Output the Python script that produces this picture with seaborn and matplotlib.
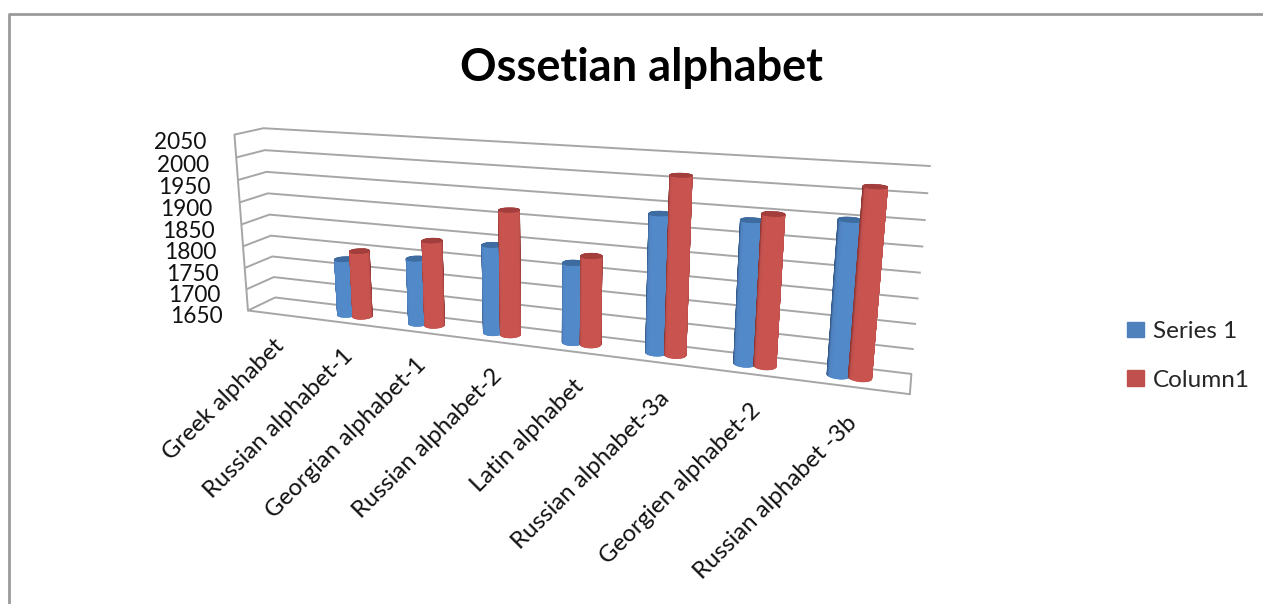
import numpy as np
import matplotlib
matplotlib.use("Agg")
import matplotlib.pyplot as plt
import seaborn as sns
from matplotlib.patches import Patch
from matplotlib.lines import Line2D
from matplotlib.transforms import ScaledTranslation

categories = ["Greek alphabet", "Russian alphabet-1", "Georgian alphabet-1", "Russian alphabet-2",
              "Latin alphabet", "Russian alphabet-3a", "Georgien alphabet-2", "Russian alphabet -3b"]
series_1 = [np.nan, 1778, 1796, 1842, 1820, 1936, 1937, 1952]
column_1 = [np.nan, 1800, 1839, 1919, 1838, 2014, 1952, 2016]
z_ticks = list(range(1650, 2051, 50))

sns.set_theme(style="white")
plt.rcParams["font.family"] = ["Lato", "DejaVu Sans"]
W, H = 1263, 604
fig = plt.figure(figsize=(W/100, H/100), dpi=100, facecolor="white")
ax = fig.add_subplot(projection="3d")
ax.set_xlim(0, 8, view_margin=0); ax.set_ylim(0, 1, view_margin=0); ax.set_zlim(1650, 2050, view_margin=0)

ELEV, AZIM, FOCAL = 14.514, -69.946, float(np.exp(-1.30503))
DEPTH, HEIGHT = float(np.exp(-0.52252)), float(np.exp(0.81220))
ax.view_init(elev=ELEV, azim=AZIM)
ax.set_proj_type("persp", focal_length=FOCAL)
ax.set_box_aspect((8, DEPTH, HEIGHT))
ax.set_position([188.026/W, -5.188/H, 706.387/W, 706.387/H])

ax.set_facecolor((1, 1, 1, 0))
GRID = "#a6a6a6"
for a in (ax.xaxis, ax.yaxis, ax.zaxis):
    a.set_pane_color((1, 1, 1, 0))
    a.pane.set_edgecolor((0, 0, 0, 0))
    a.line.set_color((0, 0, 0, 0))
    a._axinfo["tick"]["inward_factor"] = 0
    a._axinfo["tick"]["outward_factor"] = 0
ax.grid(True)
ax.xaxis._axinfo["grid"]["color"] = (0, 0, 0, 0)
ax.yaxis._axinfo["grid"]["color"] = (0, 0, 0, 0)
ax.zaxis._axinfo["grid"]["color"] = GRID
ax.zaxis._axinfo["grid"]["linewidth"] = 1.4
ax.set_yticks([])
ax.set_xticks(np.arange(8) + 0.4, categories, rotation=45, ha="right", rotation_mode="anchor",
              fontsize=17.3, color="#111111")
ax.set_zticks(z_ticks, [str(t) for t in z_ticks], fontsize=16.3, color="#111111")
ax.zaxis.set_ticks_position("lower")
ax.tick_params(axis="x", pad=23)
ax.tick_params(axis="z", pad=17)
lift = ScaledTranslation(0, 2.5/72, fig.dpi_scale_trans)
for lab in ax.zaxis.get_ticklabels():
    lab.set_transform(lab.get_transform() + lift)

for xs, ys, zs in (([0, 0], [0, 0], [1650, 2050]), ([0, 8], [0, 0], [1650, 1650]), ([8, 8], [0, 1], [1650, 1650])):
    ax.plot(xs, ys, zs, color=GRID, lw=1.4, zorder=5, clip_on=False)

ax.computed_zorder = False
colors = sns.color_palette(["#4F81BD", "#C0504D"])
lights = ["#5289C9", "#C9544F"]
darks = ["#33598A", "#8A3634"]
caps = ["#3E6BA0", "#A23F3D"]
cmaps = [sns.blend_palette([darks[k], colors[k], lights[k]], as_cmap=True) for k in range(2)]
az = np.deg2rad(AZIM)
th = np.linspace(az - np.deg2rad(100), az + np.deg2rad(100), 61)
th_full = np.linspace(0, 2*np.pi, 49)
rx = 0.12
ry = rx / DEPTH
z = 10
for i in range(8):
    for j, (vals, off) in enumerate(((series_1, -0.11), (column_1, 0.11))):
        v = vals[i]
        if np.isnan(v):
            continue
        cxx = i + 0.38 + off
        T, Zg = np.meshgrid(th, [1650, v])
        X = cxx + rx*np.cos(T)
        Y = 0.5 + ry*np.sin(T)
        t = np.clip(np.cos(T - az) * 1.5, 0, 1)
        ax.plot_surface(X, Y, Zg, facecolors=cmaps[j](t), shade=False, linewidth=0.5,
                        rstride=1, cstride=1, zorder=z)
        z += 1
        R, Tc = np.meshgrid([0, 1], th_full)
        ax.plot_surface(cxx + rx*R*np.cos(Tc), 0.5 + ry*R*np.sin(Tc), np.full_like(R, v),
                        color=caps[j], edgecolor=caps[j], shade=False, linewidth=0.5,
                        rstride=1, cstride=1, zorder=z)
        z += 1

fig.text(641/W, 1-68/H, "Ossetian alphabet", ha="center", va="center", fontsize=32.5,
         fontweight="bold", color="black")
fig.legend(handles=[Patch(color=colors[0], label="Series 1"), Patch(color=colors[1], label="Column1")],
           loc="upper left", bbox_to_anchor=(1127/W, 1-321/H), frameon=False, fontsize=17.5,
           handlelength=0.68, handleheight=0.6, labelspacing=1.14, handletextpad=0.38,
           borderaxespad=0, borderpad=0)
fig.add_artist(Line2D([9/W, 9/W, 1], [0, 1-14/H, 1-14/H], color="#9a9a9a", lw=2, transform=fig.transFigure))
fig.savefig("out.png", dpi=100, facecolor="white")
